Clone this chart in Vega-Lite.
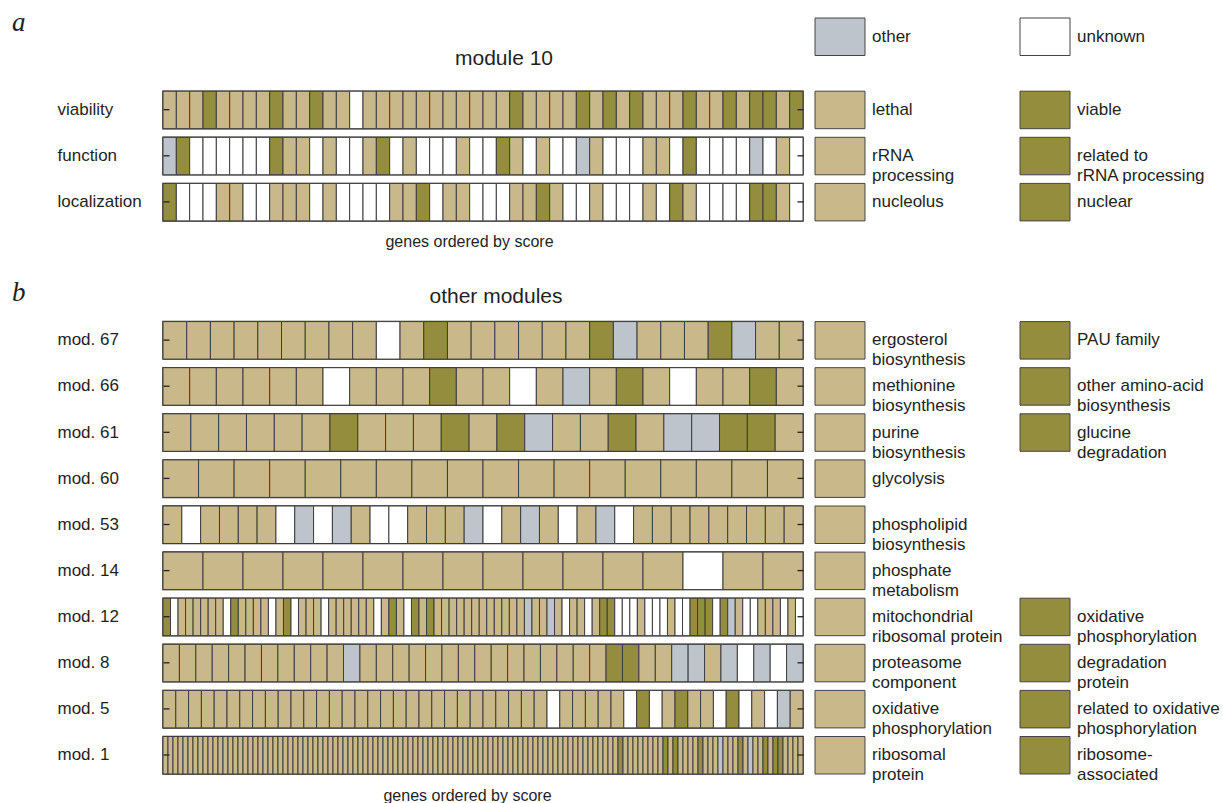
{
"$schema": "https://vega.github.io/schema/vega-lite/v6.json",
"padding": {"left": 12, "top": 9, "right": 0, "bottom": 0},
"autosize": {"type": "pad"},
"bounds": "flush",
"align": "each",
"columns": 2,
"spacing": {"row": 8.1, "column": 12},
"datasets": {
"cells": [
{"track":"viability","i":1,"cat":"main"},{"track":"viability","i":2,"cat":"main"},{"track":"viability","i":3,"cat":"main"},{"track":"viability","i":4,"cat":"alt"},{"track":"viability","i":5,"cat":"main"},{"track":"viability","i":6,"cat":"main"},{"track":"viability","i":7,"cat":"main"},{"track":"viability","i":8,"cat":"main"},{"track":"viability","i":9,"cat":"alt"},{"track":"viability","i":10,"cat":"main"},{"track":"viability","i":11,"cat":"main"},{"track":"viability","i":12,"cat":"alt"},{"track":"viability","i":13,"cat":"main"},{"track":"viability","i":14,"cat":"main"},{"track":"viability","i":15,"cat":"unknown"},{"track":"viability","i":16,"cat":"main"},{"track":"viability","i":17,"cat":"main"},{"track":"viability","i":18,"cat":"main"},{"track":"viability","i":19,"cat":"main"},{"track":"viability","i":20,"cat":"main"},{"track":"viability","i":21,"cat":"main"},{"track":"viability","i":22,"cat":"main"},{"track":"viability","i":23,"cat":"main"},{"track":"viability","i":24,"cat":"main"},{"track":"viability","i":25,"cat":"main"},{"track":"viability","i":26,"cat":"main"},{"track":"viability","i":27,"cat":"alt"},{"track":"viability","i":28,"cat":"main"},{"track":"viability","i":29,"cat":"main"},{"track":"viability","i":30,"cat":"main"},{"track":"viability","i":31,"cat":"main"},{"track":"viability","i":32,"cat":"alt"},{"track":"viability","i":33,"cat":"main"},{"track":"viability","i":34,"cat":"alt"},{"track":"viability","i":35,"cat":"main"},{"track":"viability","i":36,"cat":"alt"},{"track":"viability","i":37,"cat":"main"},{"track":"viability","i":38,"cat":"main"},{"track":"viability","i":39,"cat":"main"},{"track":"viability","i":40,"cat":"alt"},{"track":"viability","i":41,"cat":"main"},{"track":"viability","i":42,"cat":"main"},{"track":"viability","i":43,"cat":"alt"},{"track":"viability","i":44,"cat":"main"},{"track":"viability","i":45,"cat":"alt"},{"track":"viability","i":46,"cat":"alt"},{"track":"viability","i":47,"cat":"main"},{"track":"viability","i":48,"cat":"alt"},
{"track":"function","i":1,"cat":"other"},{"track":"function","i":2,"cat":"alt"},{"track":"function","i":3,"cat":"unknown"},{"track":"function","i":4,"cat":"unknown"},{"track":"function","i":5,"cat":"unknown"},{"track":"function","i":6,"cat":"unknown"},{"track":"function","i":7,"cat":"unknown"},{"track":"function","i":8,"cat":"unknown"},{"track":"function","i":9,"cat":"alt"},{"track":"function","i":10,"cat":"main"},{"track":"function","i":11,"cat":"main"},{"track":"function","i":12,"cat":"unknown"},{"track":"function","i":13,"cat":"main"},{"track":"function","i":14,"cat":"unknown"},{"track":"function","i":15,"cat":"unknown"},{"track":"function","i":16,"cat":"main"},{"track":"function","i":17,"cat":"alt"},{"track":"function","i":18,"cat":"unknown"},{"track":"function","i":19,"cat":"main"},{"track":"function","i":20,"cat":"unknown"},{"track":"function","i":21,"cat":"unknown"},{"track":"function","i":22,"cat":"unknown"},{"track":"function","i":23,"cat":"main"},{"track":"function","i":24,"cat":"unknown"},{"track":"function","i":25,"cat":"unknown"},{"track":"function","i":26,"cat":"alt"},{"track":"function","i":27,"cat":"main"},{"track":"function","i":28,"cat":"unknown"},{"track":"function","i":29,"cat":"main"},{"track":"function","i":30,"cat":"unknown"},{"track":"function","i":31,"cat":"unknown"},{"track":"function","i":32,"cat":"other"},{"track":"function","i":33,"cat":"main"},{"track":"function","i":34,"cat":"unknown"},{"track":"function","i":35,"cat":"unknown"},{"track":"function","i":36,"cat":"unknown"},{"track":"function","i":37,"cat":"main"},{"track":"function","i":38,"cat":"main"},{"track":"function","i":39,"cat":"unknown"},{"track":"function","i":40,"cat":"alt"},{"track":"function","i":41,"cat":"unknown"},{"track":"function","i":42,"cat":"unknown"},{"track":"function","i":43,"cat":"unknown"},{"track":"function","i":44,"cat":"unknown"},{"track":"function","i":45,"cat":"other"},{"track":"function","i":46,"cat":"unknown"},{"track":"function","i":47,"cat":"main"},{"track":"function","i":48,"cat":"unknown"},
{"track":"localization","i":1,"cat":"alt"},{"track":"localization","i":2,"cat":"unknown"},{"track":"localization","i":3,"cat":"unknown"},{"track":"localization","i":4,"cat":"unknown"},{"track":"localization","i":5,"cat":"main"},{"track":"localization","i":6,"cat":"main"},{"track":"localization","i":7,"cat":"unknown"},{"track":"localization","i":8,"cat":"unknown"},{"track":"localization","i":9,"cat":"main"},{"track":"localization","i":10,"cat":"main"},{"track":"localization","i":11,"cat":"main"},{"track":"localization","i":12,"cat":"unknown"},{"track":"localization","i":13,"cat":"main"},{"track":"localization","i":14,"cat":"unknown"},{"track":"localization","i":15,"cat":"unknown"},{"track":"localization","i":16,"cat":"unknown"},{"track":"localization","i":17,"cat":"unknown"},{"track":"localization","i":18,"cat":"main"},{"track":"localization","i":19,"cat":"main"},{"track":"localization","i":20,"cat":"alt"},{"track":"localization","i":21,"cat":"unknown"},{"track":"localization","i":22,"cat":"main"},{"track":"localization","i":23,"cat":"main"},{"track":"localization","i":24,"cat":"unknown"},{"track":"localization","i":25,"cat":"unknown"},{"track":"localization","i":26,"cat":"unknown"},{"track":"localization","i":27,"cat":"main"},{"track":"localization","i":28,"cat":"main"},{"track":"localization","i":29,"cat":"alt"},{"track":"localization","i":30,"cat":"main"},{"track":"localization","i":31,"cat":"unknown"},{"track":"localization","i":32,"cat":"unknown"},{"track":"localization","i":33,"cat":"main"},{"track":"localization","i":34,"cat":"unknown"},{"track":"localization","i":35,"cat":"unknown"},{"track":"localization","i":36,"cat":"unknown"},{"track":"localization","i":37,"cat":"main"},{"track":"localization","i":38,"cat":"unknown"},{"track":"localization","i":39,"cat":"alt"},{"track":"localization","i":40,"cat":"main"},{"track":"localization","i":41,"cat":"unknown"},{"track":"localization","i":42,"cat":"unknown"},{"track":"localization","i":43,"cat":"unknown"},{"track":"localization","i":44,"cat":"unknown"},{"track":"localization","i":45,"cat":"alt"},{"track":"localization","i":46,"cat":"alt"},{"track":"localization","i":47,"cat":"main"},{"track":"localization","i":48,"cat":"unknown"},
{"track":"mod. 67","i":1,"cat":"main"},{"track":"mod. 67","i":2,"cat":"main"},{"track":"mod. 67","i":3,"cat":"main"},{"track":"mod. 67","i":4,"cat":"main"},{"track":"mod. 67","i":5,"cat":"main"},{"track":"mod. 67","i":6,"cat":"main"},{"track":"mod. 67","i":7,"cat":"main"},{"track":"mod. 67","i":8,"cat":"main"},{"track":"mod. 67","i":9,"cat":"main"},{"track":"mod. 67","i":10,"cat":"unknown"},{"track":"mod. 67","i":11,"cat":"main"},{"track":"mod. 67","i":12,"cat":"alt"},{"track":"mod. 67","i":13,"cat":"main"},{"track":"mod. 67","i":14,"cat":"main"},{"track":"mod. 67","i":15,"cat":"main"},{"track":"mod. 67","i":16,"cat":"main"},{"track":"mod. 67","i":17,"cat":"main"},{"track":"mod. 67","i":18,"cat":"main"},{"track":"mod. 67","i":19,"cat":"alt"},{"track":"mod. 67","i":20,"cat":"other"},{"track":"mod. 67","i":21,"cat":"main"},{"track":"mod. 67","i":22,"cat":"main"},{"track":"mod. 67","i":23,"cat":"main"},{"track":"mod. 67","i":24,"cat":"alt"},{"track":"mod. 67","i":25,"cat":"other"},{"track":"mod. 67","i":26,"cat":"main"},{"track":"mod. 67","i":27,"cat":"main"},
{"track":"mod. 66","i":1,"cat":"main"},{"track":"mod. 66","i":2,"cat":"main"},{"track":"mod. 66","i":3,"cat":"main"},{"track":"mod. 66","i":4,"cat":"main"},{"track":"mod. 66","i":5,"cat":"main"},{"track":"mod. 66","i":6,"cat":"main"},{"track":"mod. 66","i":7,"cat":"unknown"},{"track":"mod. 66","i":8,"cat":"main"},{"track":"mod. 66","i":9,"cat":"main"},{"track":"mod. 66","i":10,"cat":"main"},{"track":"mod. 66","i":11,"cat":"alt"},{"track":"mod. 66","i":12,"cat":"main"},{"track":"mod. 66","i":13,"cat":"main"},{"track":"mod. 66","i":14,"cat":"unknown"},{"track":"mod. 66","i":15,"cat":"main"},{"track":"mod. 66","i":16,"cat":"other"},{"track":"mod. 66","i":17,"cat":"main"},{"track":"mod. 66","i":18,"cat":"alt"},{"track":"mod. 66","i":19,"cat":"main"},{"track":"mod. 66","i":20,"cat":"unknown"},{"track":"mod. 66","i":21,"cat":"main"},{"track":"mod. 66","i":22,"cat":"main"},{"track":"mod. 66","i":23,"cat":"alt"},{"track":"mod. 66","i":24,"cat":"main"},
{"track":"mod. 61","i":1,"cat":"main"},{"track":"mod. 61","i":2,"cat":"main"},{"track":"mod. 61","i":3,"cat":"main"},{"track":"mod. 61","i":4,"cat":"main"},{"track":"mod. 61","i":5,"cat":"main"},{"track":"mod. 61","i":6,"cat":"main"},{"track":"mod. 61","i":7,"cat":"alt"},{"track":"mod. 61","i":8,"cat":"main"},{"track":"mod. 61","i":9,"cat":"main"},{"track":"mod. 61","i":10,"cat":"main"},{"track":"mod. 61","i":11,"cat":"alt"},{"track":"mod. 61","i":12,"cat":"main"},{"track":"mod. 61","i":13,"cat":"alt"},{"track":"mod. 61","i":14,"cat":"other"},{"track":"mod. 61","i":15,"cat":"main"},{"track":"mod. 61","i":16,"cat":"main"},{"track":"mod. 61","i":17,"cat":"alt"},{"track":"mod. 61","i":18,"cat":"main"},{"track":"mod. 61","i":19,"cat":"other"},{"track":"mod. 61","i":20,"cat":"other"},{"track":"mod. 61","i":21,"cat":"alt"},{"track":"mod. 61","i":22,"cat":"alt"},{"track":"mod. 61","i":23,"cat":"main"},
{"track":"mod. 60","i":1,"cat":"main"},{"track":"mod. 60","i":2,"cat":"main"},{"track":"mod. 60","i":3,"cat":"main"},{"track":"mod. 60","i":4,"cat":"main"},{"track":"mod. 60","i":5,"cat":"main"},{"track":"mod. 60","i":6,"cat":"main"},{"track":"mod. 60","i":7,"cat":"main"},{"track":"mod. 60","i":8,"cat":"main"},{"track":"mod. 60","i":9,"cat":"main"},{"track":"mod. 60","i":10,"cat":"main"},{"track":"mod. 60","i":11,"cat":"main"},{"track":"mod. 60","i":12,"cat":"main"},{"track":"mod. 60","i":13,"cat":"main"},{"track":"mod. 60","i":14,"cat":"main"},{"track":"mod. 60","i":15,"cat":"main"},{"track":"mod. 60","i":16,"cat":"main"},{"track":"mod. 60","i":17,"cat":"main"},{"track":"mod. 60","i":18,"cat":"main"},
{"track":"mod. 53","i":1,"cat":"main"},{"track":"mod. 53","i":2,"cat":"unknown"},{"track":"mod. 53","i":3,"cat":"main"},{"track":"mod. 53","i":4,"cat":"main"},{"track":"mod. 53","i":5,"cat":"main"},{"track":"mod. 53","i":6,"cat":"main"},{"track":"mod. 53","i":7,"cat":"unknown"},{"track":"mod. 53","i":8,"cat":"other"},{"track":"mod. 53","i":9,"cat":"unknown"},{"track":"mod. 53","i":10,"cat":"other"},{"track":"mod. 53","i":11,"cat":"main"},{"track":"mod. 53","i":12,"cat":"unknown"},{"track":"mod. 53","i":13,"cat":"unknown"},{"track":"mod. 53","i":14,"cat":"main"},{"track":"mod. 53","i":15,"cat":"main"},{"track":"mod. 53","i":16,"cat":"main"},{"track":"mod. 53","i":17,"cat":"other"},{"track":"mod. 53","i":18,"cat":"unknown"},{"track":"mod. 53","i":19,"cat":"main"},{"track":"mod. 53","i":20,"cat":"other"},{"track":"mod. 53","i":21,"cat":"main"},{"track":"mod. 53","i":22,"cat":"unknown"},{"track":"mod. 53","i":23,"cat":"main"},{"track":"mod. 53","i":24,"cat":"other"},{"track":"mod. 53","i":25,"cat":"unknown"},{"track":"mod. 53","i":26,"cat":"main"},{"track":"mod. 53","i":27,"cat":"main"},{"track":"mod. 53","i":28,"cat":"main"},{"track":"mod. 53","i":29,"cat":"main"},{"track":"mod. 53","i":30,"cat":"main"},{"track":"mod. 53","i":31,"cat":"main"},{"track":"mod. 53","i":32,"cat":"main"},{"track":"mod. 53","i":33,"cat":"main"},{"track":"mod. 53","i":34,"cat":"main"},
{"track":"mod. 14","i":1,"cat":"main"},{"track":"mod. 14","i":2,"cat":"main"},{"track":"mod. 14","i":3,"cat":"main"},{"track":"mod. 14","i":4,"cat":"main"},{"track":"mod. 14","i":5,"cat":"main"},{"track":"mod. 14","i":6,"cat":"main"},{"track":"mod. 14","i":7,"cat":"main"},{"track":"mod. 14","i":8,"cat":"main"},{"track":"mod. 14","i":9,"cat":"main"},{"track":"mod. 14","i":10,"cat":"main"},{"track":"mod. 14","i":11,"cat":"main"},{"track":"mod. 14","i":12,"cat":"main"},{"track":"mod. 14","i":13,"cat":"main"},{"track":"mod. 14","i":14,"cat":"unknown"},{"track":"mod. 14","i":15,"cat":"main"},{"track":"mod. 14","i":16,"cat":"main"},
{"track":"mod. 12","i":1,"cat":"alt"},{"track":"mod. 12","i":2,"cat":"unknown"},{"track":"mod. 12","i":3,"cat":"main"},{"track":"mod. 12","i":4,"cat":"main"},{"track":"mod. 12","i":5,"cat":"main"},{"track":"mod. 12","i":6,"cat":"main"},{"track":"mod. 12","i":7,"cat":"main"},{"track":"mod. 12","i":8,"cat":"main"},{"track":"mod. 12","i":9,"cat":"unknown"},{"track":"mod. 12","i":10,"cat":"alt"},{"track":"mod. 12","i":11,"cat":"main"},{"track":"mod. 12","i":12,"cat":"main"},{"track":"mod. 12","i":13,"cat":"main"},{"track":"mod. 12","i":14,"cat":"main"},{"track":"mod. 12","i":15,"cat":"unknown"},{"track":"mod. 12","i":16,"cat":"main"},{"track":"mod. 12","i":17,"cat":"alt"},{"track":"mod. 12","i":18,"cat":"unknown"},{"track":"mod. 12","i":19,"cat":"main"},{"track":"mod. 12","i":20,"cat":"main"},{"track":"mod. 12","i":21,"cat":"main"},{"track":"mod. 12","i":22,"cat":"unknown"},{"track":"mod. 12","i":23,"cat":"main"},{"track":"mod. 12","i":24,"cat":"main"},{"track":"mod. 12","i":25,"cat":"main"},{"track":"mod. 12","i":26,"cat":"main"},{"track":"mod. 12","i":27,"cat":"main"},{"track":"mod. 12","i":28,"cat":"main"},{"track":"mod. 12","i":29,"cat":"unknown"},{"track":"mod. 12","i":30,"cat":"main"},{"track":"mod. 12","i":31,"cat":"alt"},{"track":"mod. 12","i":32,"cat":"main"},{"track":"mod. 12","i":33,"cat":"unknown"},{"track":"mod. 12","i":34,"cat":"alt"},{"track":"mod. 12","i":35,"cat":"main"},{"track":"mod. 12","i":36,"cat":"alt"},{"track":"mod. 12","i":37,"cat":"main"},{"track":"mod. 12","i":38,"cat":"main"},{"track":"mod. 12","i":39,"cat":"main"},{"track":"mod. 12","i":40,"cat":"main"},{"track":"mod. 12","i":41,"cat":"main"},{"track":"mod. 12","i":42,"cat":"main"},{"track":"mod. 12","i":43,"cat":"main"},{"track":"mod. 12","i":44,"cat":"main"},{"track":"mod. 12","i":45,"cat":"main"},{"track":"mod. 12","i":46,"cat":"main"},{"track":"mod. 12","i":47,"cat":"main"},{"track":"mod. 12","i":48,"cat":"main"},{"track":"mod. 12","i":49,"cat":"other"},{"track":"mod. 12","i":50,"cat":"main"},{"track":"mod. 12","i":51,"cat":"main"},{"track":"mod. 12","i":52,"cat":"other"},{"track":"mod. 12","i":53,"cat":"main"},{"track":"mod. 12","i":54,"cat":"unknown"},{"track":"mod. 12","i":55,"cat":"main"},{"track":"mod. 12","i":56,"cat":"main"},{"track":"mod. 12","i":57,"cat":"unknown"},{"track":"mod. 12","i":58,"cat":"main"},{"track":"mod. 12","i":59,"cat":"alt"},{"track":"mod. 12","i":60,"cat":"alt"},{"track":"mod. 12","i":61,"cat":"unknown"},{"track":"mod. 12","i":62,"cat":"unknown"},{"track":"mod. 12","i":63,"cat":"unknown"},{"track":"mod. 12","i":64,"cat":"main"},{"track":"mod. 12","i":65,"cat":"unknown"},{"track":"mod. 12","i":66,"cat":"unknown"},{"track":"mod. 12","i":67,"cat":"unknown"},{"track":"mod. 12","i":68,"cat":"main"},{"track":"mod. 12","i":69,"cat":"unknown"},{"track":"mod. 12","i":70,"cat":"unknown"},{"track":"mod. 12","i":71,"cat":"alt"},{"track":"mod. 12","i":72,"cat":"alt"},{"track":"mod. 12","i":73,"cat":"alt"},{"track":"mod. 12","i":74,"cat":"unknown"},{"track":"mod. 12","i":75,"cat":"alt"},{"track":"mod. 12","i":76,"cat":"other"},{"track":"mod. 12","i":77,"cat":"main"},{"track":"mod. 12","i":78,"cat":"unknown"},{"track":"mod. 12","i":79,"cat":"unknown"},{"track":"mod. 12","i":80,"cat":"main"},{"track":"mod. 12","i":81,"cat":"main"},{"track":"mod. 12","i":82,"cat":"main"},{"track":"mod. 12","i":83,"cat":"unknown"},{"track":"mod. 12","i":84,"cat":"main"},{"track":"mod. 12","i":85,"cat":"unknown"},
{"track":"mod. 8","i":1,"cat":"main"},{"track":"mod. 8","i":2,"cat":"main"},{"track":"mod. 8","i":3,"cat":"main"},{"track":"mod. 8","i":4,"cat":"main"},{"track":"mod. 8","i":5,"cat":"main"},{"track":"mod. 8","i":6,"cat":"main"},{"track":"mod. 8","i":7,"cat":"main"},{"track":"mod. 8","i":8,"cat":"main"},{"track":"mod. 8","i":9,"cat":"main"},{"track":"mod. 8","i":10,"cat":"main"},{"track":"mod. 8","i":11,"cat":"main"},{"track":"mod. 8","i":12,"cat":"other"},{"track":"mod. 8","i":13,"cat":"main"},{"track":"mod. 8","i":14,"cat":"main"},{"track":"mod. 8","i":15,"cat":"main"},{"track":"mod. 8","i":16,"cat":"main"},{"track":"mod. 8","i":17,"cat":"main"},{"track":"mod. 8","i":18,"cat":"main"},{"track":"mod. 8","i":19,"cat":"main"},{"track":"mod. 8","i":20,"cat":"main"},{"track":"mod. 8","i":21,"cat":"main"},{"track":"mod. 8","i":22,"cat":"main"},{"track":"mod. 8","i":23,"cat":"main"},{"track":"mod. 8","i":24,"cat":"main"},{"track":"mod. 8","i":25,"cat":"main"},{"track":"mod. 8","i":26,"cat":"main"},{"track":"mod. 8","i":27,"cat":"main"},{"track":"mod. 8","i":28,"cat":"alt"},{"track":"mod. 8","i":29,"cat":"alt"},{"track":"mod. 8","i":30,"cat":"main"},{"track":"mod. 8","i":31,"cat":"main"},{"track":"mod. 8","i":32,"cat":"other"},{"track":"mod. 8","i":33,"cat":"other"},{"track":"mod. 8","i":34,"cat":"main"},{"track":"mod. 8","i":35,"cat":"other"},{"track":"mod. 8","i":36,"cat":"unknown"},{"track":"mod. 8","i":37,"cat":"other"},{"track":"mod. 8","i":38,"cat":"unknown"},{"track":"mod. 8","i":39,"cat":"other"},
{"track":"mod. 5","i":1,"cat":"main"},{"track":"mod. 5","i":2,"cat":"main"},{"track":"mod. 5","i":3,"cat":"main"},{"track":"mod. 5","i":4,"cat":"main"},{"track":"mod. 5","i":5,"cat":"main"},{"track":"mod. 5","i":6,"cat":"main"},{"track":"mod. 5","i":7,"cat":"main"},{"track":"mod. 5","i":8,"cat":"main"},{"track":"mod. 5","i":9,"cat":"main"},{"track":"mod. 5","i":10,"cat":"main"},{"track":"mod. 5","i":11,"cat":"main"},{"track":"mod. 5","i":12,"cat":"main"},{"track":"mod. 5","i":13,"cat":"main"},{"track":"mod. 5","i":14,"cat":"main"},{"track":"mod. 5","i":15,"cat":"main"},{"track":"mod. 5","i":16,"cat":"main"},{"track":"mod. 5","i":17,"cat":"main"},{"track":"mod. 5","i":18,"cat":"main"},{"track":"mod. 5","i":19,"cat":"main"},{"track":"mod. 5","i":20,"cat":"main"},{"track":"mod. 5","i":21,"cat":"main"},{"track":"mod. 5","i":22,"cat":"main"},{"track":"mod. 5","i":23,"cat":"main"},{"track":"mod. 5","i":24,"cat":"main"},{"track":"mod. 5","i":25,"cat":"main"},{"track":"mod. 5","i":26,"cat":"main"},{"track":"mod. 5","i":27,"cat":"main"},{"track":"mod. 5","i":28,"cat":"main"},{"track":"mod. 5","i":29,"cat":"main"},{"track":"mod. 5","i":30,"cat":"main"},{"track":"mod. 5","i":31,"cat":"unknown"},{"track":"mod. 5","i":32,"cat":"main"},{"track":"mod. 5","i":33,"cat":"main"},{"track":"mod. 5","i":34,"cat":"main"},{"track":"mod. 5","i":35,"cat":"main"},{"track":"mod. 5","i":36,"cat":"main"},{"track":"mod. 5","i":37,"cat":"unknown"},{"track":"mod. 5","i":38,"cat":"alt"},{"track":"mod. 5","i":39,"cat":"unknown"},{"track":"mod. 5","i":40,"cat":"main"},{"track":"mod. 5","i":41,"cat":"alt"},{"track":"mod. 5","i":42,"cat":"main"},{"track":"mod. 5","i":43,"cat":"main"},{"track":"mod. 5","i":44,"cat":"unknown"},{"track":"mod. 5","i":45,"cat":"alt"},{"track":"mod. 5","i":46,"cat":"unknown"},{"track":"mod. 5","i":47,"cat":"main"},{"track":"mod. 5","i":48,"cat":"unknown"},{"track":"mod. 5","i":49,"cat":"other"},{"track":"mod. 5","i":50,"cat":"main"},
{"track":"mod. 1","i":1,"cat":"main"},{"track":"mod. 1","i":2,"cat":"main"},{"track":"mod. 1","i":3,"cat":"main"},{"track":"mod. 1","i":4,"cat":"main"},{"track":"mod. 1","i":5,"cat":"main"},{"track":"mod. 1","i":6,"cat":"main"},{"track":"mod. 1","i":7,"cat":"main"},{"track":"mod. 1","i":8,"cat":"main"},{"track":"mod. 1","i":9,"cat":"main"},{"track":"mod. 1","i":10,"cat":"main"},{"track":"mod. 1","i":11,"cat":"main"},{"track":"mod. 1","i":12,"cat":"main"},{"track":"mod. 1","i":13,"cat":"main"},{"track":"mod. 1","i":14,"cat":"main"},{"track":"mod. 1","i":15,"cat":"main"},{"track":"mod. 1","i":16,"cat":"main"},{"track":"mod. 1","i":17,"cat":"main"},{"track":"mod. 1","i":18,"cat":"main"},{"track":"mod. 1","i":19,"cat":"main"},{"track":"mod. 1","i":20,"cat":"main"},{"track":"mod. 1","i":21,"cat":"main"},{"track":"mod. 1","i":22,"cat":"main"},{"track":"mod. 1","i":23,"cat":"main"},{"track":"mod. 1","i":24,"cat":"main"},{"track":"mod. 1","i":25,"cat":"main"},{"track":"mod. 1","i":26,"cat":"main"},{"track":"mod. 1","i":27,"cat":"main"},{"track":"mod. 1","i":28,"cat":"main"},{"track":"mod. 1","i":29,"cat":"main"},{"track":"mod. 1","i":30,"cat":"main"},{"track":"mod. 1","i":31,"cat":"main"},{"track":"mod. 1","i":32,"cat":"main"},{"track":"mod. 1","i":33,"cat":"main"},{"track":"mod. 1","i":34,"cat":"main"},{"track":"mod. 1","i":35,"cat":"main"},{"track":"mod. 1","i":36,"cat":"main"},{"track":"mod. 1","i":37,"cat":"main"},{"track":"mod. 1","i":38,"cat":"main"},{"track":"mod. 1","i":39,"cat":"main"},{"track":"mod. 1","i":40,"cat":"main"},{"track":"mod. 1","i":41,"cat":"main"},{"track":"mod. 1","i":42,"cat":"main"},{"track":"mod. 1","i":43,"cat":"main"},{"track":"mod. 1","i":44,"cat":"main"},{"track":"mod. 1","i":45,"cat":"main"},{"track":"mod. 1","i":46,"cat":"main"},{"track":"mod. 1","i":47,"cat":"main"},{"track":"mod. 1","i":48,"cat":"main"},{"track":"mod. 1","i":49,"cat":"main"},{"track":"mod. 1","i":50,"cat":"main"},{"track":"mod. 1","i":51,"cat":"main"},{"track":"mod. 1","i":52,"cat":"main"},{"track":"mod. 1","i":53,"cat":"main"},{"track":"mod. 1","i":54,"cat":"main"},{"track":"mod. 1","i":55,"cat":"main"},{"track":"mod. 1","i":56,"cat":"main"},{"track":"mod. 1","i":57,"cat":"main"},{"track":"mod. 1","i":58,"cat":"main"},{"track":"mod. 1","i":59,"cat":"main"},{"track":"mod. 1","i":60,"cat":"main"},{"track":"mod. 1","i":61,"cat":"main"},{"track":"mod. 1","i":62,"cat":"main"},{"track":"mod. 1","i":63,"cat":"main"},{"track":"mod. 1","i":64,"cat":"main"},{"track":"mod. 1","i":65,"cat":"main"},{"track":"mod. 1","i":66,"cat":"main"},{"track":"mod. 1","i":67,"cat":"main"},{"track":"mod. 1","i":68,"cat":"main"},{"track":"mod. 1","i":69,"cat":"main"},{"track":"mod. 1","i":70,"cat":"main"},{"track":"mod. 1","i":71,"cat":"main"},{"track":"mod. 1","i":72,"cat":"main"},{"track":"mod. 1","i":73,"cat":"main"},{"track":"mod. 1","i":74,"cat":"main"},{"track":"mod. 1","i":75,"cat":"main"},{"track":"mod. 1","i":76,"cat":"main"},{"track":"mod. 1","i":77,"cat":"main"},{"track":"mod. 1","i":78,"cat":"main"},{"track":"mod. 1","i":79,"cat":"main"},{"track":"mod. 1","i":80,"cat":"main"},{"track":"mod. 1","i":81,"cat":"main"},{"track":"mod. 1","i":82,"cat":"main"},{"track":"mod. 1","i":83,"cat":"main"},{"track":"mod. 1","i":84,"cat":"main"},{"track":"mod. 1","i":85,"cat":"main"},{"track":"mod. 1","i":86,"cat":"main"},{"track":"mod. 1","i":87,"cat":"main"},{"track":"mod. 1","i":88,"cat":"main"},{"track":"mod. 1","i":89,"cat":"main"},{"track":"mod. 1","i":90,"cat":"main"},{"track":"mod. 1","i":91,"cat":"main"},{"track":"mod. 1","i":92,"cat":"alt"},{"track":"mod. 1","i":93,"cat":"main"},{"track":"mod. 1","i":94,"cat":"main"},{"track":"mod. 1","i":95,"cat":"main"},{"track":"mod. 1","i":96,"cat":"main"},{"track":"mod. 1","i":97,"cat":"main"},{"track":"mod. 1","i":98,"cat":"main"},{"track":"mod. 1","i":99,"cat":"main"},{"track":"mod. 1","i":100,"cat":"main"},{"track":"mod. 1","i":101,"cat":"alt"},{"track":"mod. 1","i":102,"cat":"main"},{"track":"mod. 1","i":103,"cat":"alt"},{"track":"mod. 1","i":104,"cat":"main"},{"track":"mod. 1","i":105,"cat":"main"},{"track":"mod. 1","i":106,"cat":"main"},{"track":"mod. 1","i":107,"cat":"main"},{"track":"mod. 1","i":108,"cat":"alt"},{"track":"mod. 1","i":109,"cat":"main"},{"track":"mod. 1","i":110,"cat":"main"},{"track":"mod. 1","i":111,"cat":"main"},{"track":"mod. 1","i":112,"cat":"other"},{"track":"mod. 1","i":113,"cat":"main"},{"track":"mod. 1","i":114,"cat":"main"},{"track":"mod. 1","i":115,"cat":"main"},{"track":"mod. 1","i":116,"cat":"alt"},{"track":"mod. 1","i":117,"cat":"main"},{"track":"mod. 1","i":118,"cat":"other"},{"track":"mod. 1","i":119,"cat":"main"},{"track":"mod. 1","i":120,"cat":"main"},{"track":"mod. 1","i":121,"cat":"alt"},{"track":"mod. 1","i":122,"cat":"main"},{"track":"mod. 1","i":123,"cat":"alt"},{"track":"mod. 1","i":124,"cat":"alt"},{"track":"mod. 1","i":125,"cat":"main"},{"track":"mod. 1","i":126,"cat":"main"},{"track":"mod. 1","i":127,"cat":"main"},{"track":"mod. 1","i":128,"cat":"main"}
],
"legend": [
{"track":"hdr","col":"main","cat":"other","label":"other"},
{"track":"hdr","col":"alt","cat":"unknown","label":"unknown"},
{"track":"viability","col":"main","cat":"main","label":"lethal"},
{"track":"viability","col":"alt","cat":"alt","label":"viable"},
{"track":"function","col":"main","cat":"main","label":"rRNA\nprocessing"},
{"track":"function","col":"alt","cat":"alt","label":"related to\nrRNA processing"},
{"track":"localization","col":"main","cat":"main","label":"nucleolus"},
{"track":"localization","col":"alt","cat":"alt","label":"nuclear"},
{"track":"mod. 67","col":"main","cat":"main","label":"ergosterol\nbiosynthesis"},
{"track":"mod. 67","col":"alt","cat":"alt","label":"PAU family"},
{"track":"mod. 66","col":"main","cat":"main","label":"methionine\nbiosynthesis"},
{"track":"mod. 66","col":"alt","cat":"alt","label":"other amino-acid\nbiosynthesis"},
{"track":"mod. 61","col":"main","cat":"main","label":"purine\nbiosynthesis"},
{"track":"mod. 61","col":"alt","cat":"alt","label":"glucine\ndegradation"},
{"track":"mod. 60","col":"main","cat":"main","label":"glycolysis"},
{"track":"mod. 53","col":"main","cat":"main","label":"phospholipid\nbiosynthesis"},
{"track":"mod. 14","col":"main","cat":"main","label":"phosphate\nmetabolism"},
{"track":"mod. 12","col":"main","cat":"main","label":"mitochondrial\nribosomal protein"},
{"track":"mod. 12","col":"alt","cat":"alt","label":"oxidative\nphosphorylation"},
{"track":"mod. 8","col":"main","cat":"main","label":"proteasome\ncomponent"},
{"track":"mod. 8","col":"alt","cat":"alt","label":"degradation\nprotein"},
{"track":"mod. 5","col":"main","cat":"main","label":"oxidative\nphosphorylation"},
{"track":"mod. 5","col":"alt","cat":"alt","label":"related to oxidative\nphosphorylation"},
{"track":"mod. 1","col":"main","cat":"main","label":"ribosomal\nprotein"},
{"track":"mod. 1","col":"alt","cat":"alt","label":"ribosome-\nassociated"}
]
},
"concat": [
{"width": 640, "height": 37.5, "data": {"values": []}, "mark": "point",
 "title": {"text": "a", "anchor": "start", "frame": "group", "orient": "top", "offset": 0, "dx": -151, "dy": 40, "baseline": "alphabetic", "font": "Liberation Serif", "fontStyle": "italic", "fontSize": 27, "fontWeight": "normal", "color": "#231f20"}},
{"width": 255, "height": 37.5, "data": {"name": "legend"}, "transform": [{"filter": {"field": "track", "equal": "hdr"}}],
 "encoding": {"x": {"field": "col", "type": "nominal", "scale": {"domain": ["main","alt"], "paddingInner": 0.7561, "paddingOuter": 0}, "axis": null}, "y": {"field": "track", "type": "nominal", "scale": {"paddingInner": 0, "paddingOuter": 0}, "axis": null}},
 "layer": [{"mark": {"type": "rect", "stroke": "#444", "strokeWidth": 1}, "encoding": {"color": {"field": "cat", "type": "nominal", "scale": {"domain": ["main","alt","other","unknown"], "range": ["#C9B98A","#948D3E","#BDC4CB","#FFFFFF"]}, "legend": null}}},
  {"mark": {"type": "text", "align": "left", "baseline": "middle", "dx": 32, "fontSize": 17, "lineHeight": 20, "lineBreak": "\n", "color": "#231f20"}, "encoding": {"text": {"field": "label"}}}]},
{"width": 640, "height": 18.4, "data": {"values": []}, "mark": "point"},
{"width": 255, "height": 18.4, "data": {"values": []}, "mark": "point"},
{"width": 640, "height": 37.5, "view": {"stroke": "#333", "strokeWidth": 1.5},
 "title": {"text": "module 10", "offset": 24, "dx": 21, "dy": 19, "baseline": "alphabetic"},
 "data": {"name": "cells"}, "transform": [{"filter": {"field": "track", "equal": "viability"}}],
 "layer": [{"mark": {"type": "rect", "stroke": "#3d3d3d", "strokeWidth": 1}, "encoding": {"x": {"field": "i", "type": "ordinal", "scale": {"paddingInner": 0, "paddingOuter": 0}, "axis": null}, "y": {"field": "track", "type": "nominal", "scale": {"paddingInner": 0, "paddingOuter": 0}, "axis": {"orient": "left", "title": null}}, "color": {"field": "cat", "type": "nominal", "scale": {"domain": ["main","alt","other","unknown"], "range": ["#C9B98A","#948D3E","#BDC4CB","#FFFFFF"]}, "legend": null}}},
  {"mark": {"type": "rect", "opacity": 0}, "encoding": {"y": {"field": "track", "type": "nominal", "axis": {"orient": "right", "title": null}}}}],
 "resolve": {"axis": {"y": "independent"}}},
{"width": 255, "height": 37.5, "data": {"name": "legend"}, "transform": [{"filter": {"field": "track", "equal": "viability"}}],
 "encoding": {"x": {"field": "col", "type": "nominal", "scale": {"domain": ["main","alt"], "paddingInner": 0.7561, "paddingOuter": 0}, "axis": null}, "y": {"field": "track", "type": "nominal", "scale": {"paddingInner": 0, "paddingOuter": 0}, "axis": null}},
 "layer": [{"mark": {"type": "rect", "stroke": "#444", "strokeWidth": 1}, "encoding": {"color": {"field": "cat", "type": "nominal", "scale": {"domain": ["main","alt","other","unknown"], "range": ["#C9B98A","#948D3E","#BDC4CB","#FFFFFF"]}, "legend": null}}},
  {"mark": {"type": "text", "align": "left", "baseline": "middle", "dx": 32, "fontSize": 17, "lineHeight": 20, "lineBreak": "\n", "color": "#231f20"}, "encoding": {"text": {"field": "label"}}}]},
{"width": 640, "height": 37.5, "view": {"stroke": "#333", "strokeWidth": 1.5},
 "data": {"name": "cells"}, "transform": [{"filter": {"field": "track", "equal": "function"}}],
 "layer": [{"mark": {"type": "rect", "stroke": "#3d3d3d", "strokeWidth": 1}, "encoding": {"x": {"field": "i", "type": "ordinal", "scale": {"paddingInner": 0, "paddingOuter": 0}, "axis": null}, "y": {"field": "track", "type": "nominal", "scale": {"paddingInner": 0, "paddingOuter": 0}, "axis": {"orient": "left", "title": null}}, "color": {"field": "cat", "type": "nominal", "scale": {"domain": ["main","alt","other","unknown"], "range": ["#C9B98A","#948D3E","#BDC4CB","#FFFFFF"]}, "legend": null}}},
  {"mark": {"type": "rect", "opacity": 0}, "encoding": {"y": {"field": "track", "type": "nominal", "axis": {"orient": "right", "title": null}}}}],
 "resolve": {"axis": {"y": "independent"}}},
{"width": 255, "height": 37.5, "data": {"name": "legend"}, "transform": [{"filter": {"field": "track", "equal": "function"}}],
 "encoding": {"x": {"field": "col", "type": "nominal", "scale": {"domain": ["main","alt"], "paddingInner": 0.7561, "paddingOuter": 0}, "axis": null}, "y": {"field": "track", "type": "nominal", "scale": {"paddingInner": 0, "paddingOuter": 0}, "axis": null}},
 "layer": [{"mark": {"type": "rect", "stroke": "#444", "strokeWidth": 1}, "encoding": {"color": {"field": "cat", "type": "nominal", "scale": {"domain": ["main","alt","other","unknown"], "range": ["#C9B98A","#948D3E","#BDC4CB","#FFFFFF"]}, "legend": null}}},
  {"mark": {"type": "text", "align": "left", "baseline": "middle", "dx": 32, "fontSize": 17, "lineHeight": 20, "lineBreak": "\n", "color": "#231f20"}, "encoding": {"text": {"field": "label"}}}]},
{"width": 640, "height": 37.5, "view": {"stroke": "#333", "strokeWidth": 1.5},
 "data": {"name": "cells"}, "transform": [{"filter": {"field": "track", "equal": "localization"}}],
 "layer": [{"mark": {"type": "rect", "stroke": "#3d3d3d", "strokeWidth": 1}, "encoding": {"x": {"field": "i", "type": "ordinal", "scale": {"paddingInner": 0, "paddingOuter": 0}, "axis": {"title": "genes ordered by score", "labels": false, "ticks": false, "domain": false, "titlePadding": 13, "titleX": 306, "titleFontSize": 16, "titleFontWeight": "normal", "titleColor": "#231f20"}}, "y": {"field": "track", "type": "nominal", "scale": {"paddingInner": 0, "paddingOuter": 0}, "axis": {"orient": "left", "title": null}}, "color": {"field": "cat", "type": "nominal", "scale": {"domain": ["main","alt","other","unknown"], "range": ["#C9B98A","#948D3E","#BDC4CB","#FFFFFF"]}, "legend": null}}},
  {"mark": {"type": "rect", "opacity": 0}, "encoding": {"y": {"field": "track", "type": "nominal", "axis": {"orient": "right", "title": null}}}}],
 "resolve": {"axis": {"y": "independent"}}},
{"width": 255, "height": 37.5, "data": {"name": "legend"}, "transform": [{"filter": {"field": "track", "equal": "localization"}}],
 "encoding": {"x": {"field": "col", "type": "nominal", "scale": {"domain": ["main","alt"], "paddingInner": 0.7561, "paddingOuter": 0}, "axis": null}, "y": {"field": "track", "type": "nominal", "scale": {"paddingInner": 0, "paddingOuter": 0}, "axis": null}},
 "layer": [{"mark": {"type": "rect", "stroke": "#444", "strokeWidth": 1}, "encoding": {"color": {"field": "cat", "type": "nominal", "scale": {"domain": ["main","alt","other","unknown"], "range": ["#C9B98A","#948D3E","#BDC4CB","#FFFFFF"]}, "legend": null}}},
  {"mark": {"type": "text", "align": "left", "baseline": "middle", "dx": 32, "fontSize": 17, "lineHeight": 20, "lineBreak": "\n", "color": "#231f20"}, "encoding": {"text": {"field": "label"}}}]},
{"width": 640, "height": 83.9, "data": {"values": []}, "mark": "point",
 "title": {"text": "b", "anchor": "start", "frame": "group", "orient": "top", "offset": 0, "dx": -151, "dy": 98.6, "baseline": "alphabetic", "font": "Liberation Serif", "fontStyle": "italic", "fontSize": 27, "fontWeight": "normal", "color": "#231f20"}},
{"width": 255, "height": 83.9, "data": {"values": []}, "mark": "point"},
{"width": 640, "height": 37.5, "view": {"stroke": "#333", "strokeWidth": 1.5},
 "title": {"text": "other modules", "offset": 16.5, "dx": 13, "dy": 19.7, "baseline": "alphabetic"},
 "data": {"name": "cells"}, "transform": [{"filter": {"field": "track", "equal": "mod. 67"}}],
 "layer": [{"mark": {"type": "rect", "stroke": "#3d3d3d", "strokeWidth": 1}, "encoding": {"x": {"field": "i", "type": "ordinal", "scale": {"paddingInner": 0, "paddingOuter": 0}, "axis": null}, "y": {"field": "track", "type": "nominal", "scale": {"paddingInner": 0, "paddingOuter": 0}, "axis": {"orient": "left", "title": null}}, "color": {"field": "cat", "type": "nominal", "scale": {"domain": ["main","alt","other","unknown"], "range": ["#C9B98A","#948D3E","#BDC4CB","#FFFFFF"]}, "legend": null}}},
  {"mark": {"type": "rect", "opacity": 0}, "encoding": {"y": {"field": "track", "type": "nominal", "axis": {"orient": "right", "title": null}}}}],
 "resolve": {"axis": {"y": "independent"}}},
{"width": 255, "height": 37.5, "data": {"name": "legend"}, "transform": [{"filter": {"field": "track", "equal": "mod. 67"}}],
 "encoding": {"x": {"field": "col", "type": "nominal", "scale": {"domain": ["main","alt"], "paddingInner": 0.7561, "paddingOuter": 0}, "axis": null}, "y": {"field": "track", "type": "nominal", "scale": {"paddingInner": 0, "paddingOuter": 0}, "axis": null}},
 "layer": [{"mark": {"type": "rect", "stroke": "#444", "strokeWidth": 1}, "encoding": {"color": {"field": "cat", "type": "nominal", "scale": {"domain": ["main","alt","other","unknown"], "range": ["#C9B98A","#948D3E","#BDC4CB","#FFFFFF"]}, "legend": null}}},
  {"mark": {"type": "text", "align": "left", "baseline": "middle", "dx": 32, "fontSize": 17, "lineHeight": 20, "lineBreak": "\n", "color": "#231f20"}, "encoding": {"text": {"field": "label"}}}]},
{"width": 640, "height": 37.5, "view": {"stroke": "#333", "strokeWidth": 1.5},
 "data": {"name": "cells"}, "transform": [{"filter": {"field": "track", "equal": "mod. 66"}}],
 "layer": [{"mark": {"type": "rect", "stroke": "#3d3d3d", "strokeWidth": 1}, "encoding": {"x": {"field": "i", "type": "ordinal", "scale": {"paddingInner": 0, "paddingOuter": 0}, "axis": null}, "y": {"field": "track", "type": "nominal", "scale": {"paddingInner": 0, "paddingOuter": 0}, "axis": {"orient": "left", "title": null}}, "color": {"field": "cat", "type": "nominal", "scale": {"domain": ["main","alt","other","unknown"], "range": ["#C9B98A","#948D3E","#BDC4CB","#FFFFFF"]}, "legend": null}}},
  {"mark": {"type": "rect", "opacity": 0}, "encoding": {"y": {"field": "track", "type": "nominal", "axis": {"orient": "right", "title": null}}}}],
 "resolve": {"axis": {"y": "independent"}}},
{"width": 255, "height": 37.5, "data": {"name": "legend"}, "transform": [{"filter": {"field": "track", "equal": "mod. 66"}}],
 "encoding": {"x": {"field": "col", "type": "nominal", "scale": {"domain": ["main","alt"], "paddingInner": 0.7561, "paddingOuter": 0}, "axis": null}, "y": {"field": "track", "type": "nominal", "scale": {"paddingInner": 0, "paddingOuter": 0}, "axis": null}},
 "layer": [{"mark": {"type": "rect", "stroke": "#444", "strokeWidth": 1}, "encoding": {"color": {"field": "cat", "type": "nominal", "scale": {"domain": ["main","alt","other","unknown"], "range": ["#C9B98A","#948D3E","#BDC4CB","#FFFFFF"]}, "legend": null}}},
  {"mark": {"type": "text", "align": "left", "baseline": "middle", "dx": 32, "fontSize": 17, "lineHeight": 20, "lineBreak": "\n", "color": "#231f20"}, "encoding": {"text": {"field": "label"}}}]},
{"width": 640, "height": 37.5, "view": {"stroke": "#333", "strokeWidth": 1.5},
 "data": {"name": "cells"}, "transform": [{"filter": {"field": "track", "equal": "mod. 61"}}],
 "layer": [{"mark": {"type": "rect", "stroke": "#3d3d3d", "strokeWidth": 1}, "encoding": {"x": {"field": "i", "type": "ordinal", "scale": {"paddingInner": 0, "paddingOuter": 0}, "axis": null}, "y": {"field": "track", "type": "nominal", "scale": {"paddingInner": 0, "paddingOuter": 0}, "axis": {"orient": "left", "title": null}}, "color": {"field": "cat", "type": "nominal", "scale": {"domain": ["main","alt","other","unknown"], "range": ["#C9B98A","#948D3E","#BDC4CB","#FFFFFF"]}, "legend": null}}},
  {"mark": {"type": "rect", "opacity": 0}, "encoding": {"y": {"field": "track", "type": "nominal", "axis": {"orient": "right", "title": null}}}}],
 "resolve": {"axis": {"y": "independent"}}},
{"width": 255, "height": 37.5, "data": {"name": "legend"}, "transform": [{"filter": {"field": "track", "equal": "mod. 61"}}],
 "encoding": {"x": {"field": "col", "type": "nominal", "scale": {"domain": ["main","alt"], "paddingInner": 0.7561, "paddingOuter": 0}, "axis": null}, "y": {"field": "track", "type": "nominal", "scale": {"paddingInner": 0, "paddingOuter": 0}, "axis": null}},
 "layer": [{"mark": {"type": "rect", "stroke": "#444", "strokeWidth": 1}, "encoding": {"color": {"field": "cat", "type": "nominal", "scale": {"domain": ["main","alt","other","unknown"], "range": ["#C9B98A","#948D3E","#BDC4CB","#FFFFFF"]}, "legend": null}}},
  {"mark": {"type": "text", "align": "left", "baseline": "middle", "dx": 32, "fontSize": 17, "lineHeight": 20, "lineBreak": "\n", "color": "#231f20"}, "encoding": {"text": {"field": "label"}}}]},
{"width": 640, "height": 37.5, "view": {"stroke": "#333", "strokeWidth": 1.5},
 "data": {"name": "cells"}, "transform": [{"filter": {"field": "track", "equal": "mod. 60"}}],
 "layer": [{"mark": {"type": "rect", "stroke": "#3d3d3d", "strokeWidth": 1}, "encoding": {"x": {"field": "i", "type": "ordinal", "scale": {"paddingInner": 0, "paddingOuter": 0}, "axis": null}, "y": {"field": "track", "type": "nominal", "scale": {"paddingInner": 0, "paddingOuter": 0}, "axis": {"orient": "left", "title": null}}, "color": {"field": "cat", "type": "nominal", "scale": {"domain": ["main","alt","other","unknown"], "range": ["#C9B98A","#948D3E","#BDC4CB","#FFFFFF"]}, "legend": null}}},
  {"mark": {"type": "rect", "opacity": 0}, "encoding": {"y": {"field": "track", "type": "nominal", "axis": {"orient": "right", "title": null}}}}],
 "resolve": {"axis": {"y": "independent"}}},
{"width": 255, "height": 37.5, "data": {"name": "legend"}, "transform": [{"filter": {"field": "track", "equal": "mod. 60"}}],
 "encoding": {"x": {"field": "col", "type": "nominal", "scale": {"domain": ["main","alt"], "paddingInner": 0.7561, "paddingOuter": 0}, "axis": null}, "y": {"field": "track", "type": "nominal", "scale": {"paddingInner": 0, "paddingOuter": 0}, "axis": null}},
 "layer": [{"mark": {"type": "rect", "stroke": "#444", "strokeWidth": 1}, "encoding": {"color": {"field": "cat", "type": "nominal", "scale": {"domain": ["main","alt","other","unknown"], "range": ["#C9B98A","#948D3E","#BDC4CB","#FFFFFF"]}, "legend": null}}},
  {"mark": {"type": "text", "align": "left", "baseline": "middle", "dx": 32, "fontSize": 17, "lineHeight": 20, "lineBreak": "\n", "color": "#231f20"}, "encoding": {"text": {"field": "label"}}}]},
{"width": 640, "height": 37.5, "view": {"stroke": "#333", "strokeWidth": 1.5},
 "data": {"name": "cells"}, "transform": [{"filter": {"field": "track", "equal": "mod. 53"}}],
 "layer": [{"mark": {"type": "rect", "stroke": "#3d3d3d", "strokeWidth": 1}, "encoding": {"x": {"field": "i", "type": "ordinal", "scale": {"paddingInner": 0, "paddingOuter": 0}, "axis": null}, "y": {"field": "track", "type": "nominal", "scale": {"paddingInner": 0, "paddingOuter": 0}, "axis": {"orient": "left", "title": null}}, "color": {"field": "cat", "type": "nominal", "scale": {"domain": ["main","alt","other","unknown"], "range": ["#C9B98A","#948D3E","#BDC4CB","#FFFFFF"]}, "legend": null}}},
  {"mark": {"type": "rect", "opacity": 0}, "encoding": {"y": {"field": "track", "type": "nominal", "axis": {"orient": "right", "title": null}}}}],
 "resolve": {"axis": {"y": "independent"}}},
{"width": 255, "height": 37.5, "data": {"name": "legend"}, "transform": [{"filter": {"field": "track", "equal": "mod. 53"}}],
 "encoding": {"x": {"field": "col", "type": "nominal", "scale": {"domain": ["main","alt"], "paddingInner": 0.7561, "paddingOuter": 0}, "axis": null}, "y": {"field": "track", "type": "nominal", "scale": {"paddingInner": 0, "paddingOuter": 0}, "axis": null}},
 "layer": [{"mark": {"type": "rect", "stroke": "#444", "strokeWidth": 1}, "encoding": {"color": {"field": "cat", "type": "nominal", "scale": {"domain": ["main","alt","other","unknown"], "range": ["#C9B98A","#948D3E","#BDC4CB","#FFFFFF"]}, "legend": null}}},
  {"mark": {"type": "text", "align": "left", "baseline": "middle", "dx": 32, "fontSize": 17, "lineHeight": 20, "lineBreak": "\n", "color": "#231f20"}, "encoding": {"text": {"field": "label"}}}]},
{"width": 640, "height": 37.5, "view": {"stroke": "#333", "strokeWidth": 1.5},
 "data": {"name": "cells"}, "transform": [{"filter": {"field": "track", "equal": "mod. 14"}}],
 "layer": [{"mark": {"type": "rect", "stroke": "#3d3d3d", "strokeWidth": 1}, "encoding": {"x": {"field": "i", "type": "ordinal", "scale": {"paddingInner": 0, "paddingOuter": 0}, "axis": null}, "y": {"field": "track", "type": "nominal", "scale": {"paddingInner": 0, "paddingOuter": 0}, "axis": {"orient": "left", "title": null}}, "color": {"field": "cat", "type": "nominal", "scale": {"domain": ["main","alt","other","unknown"], "range": ["#C9B98A","#948D3E","#BDC4CB","#FFFFFF"]}, "legend": null}}},
  {"mark": {"type": "rect", "opacity": 0}, "encoding": {"y": {"field": "track", "type": "nominal", "axis": {"orient": "right", "title": null}}}}],
 "resolve": {"axis": {"y": "independent"}}},
{"width": 255, "height": 37.5, "data": {"name": "legend"}, "transform": [{"filter": {"field": "track", "equal": "mod. 14"}}],
 "encoding": {"x": {"field": "col", "type": "nominal", "scale": {"domain": ["main","alt"], "paddingInner": 0.7561, "paddingOuter": 0}, "axis": null}, "y": {"field": "track", "type": "nominal", "scale": {"paddingInner": 0, "paddingOuter": 0}, "axis": null}},
 "layer": [{"mark": {"type": "rect", "stroke": "#444", "strokeWidth": 1}, "encoding": {"color": {"field": "cat", "type": "nominal", "scale": {"domain": ["main","alt","other","unknown"], "range": ["#C9B98A","#948D3E","#BDC4CB","#FFFFFF"]}, "legend": null}}},
  {"mark": {"type": "text", "align": "left", "baseline": "middle", "dx": 32, "fontSize": 17, "lineHeight": 20, "lineBreak": "\n", "color": "#231f20"}, "encoding": {"text": {"field": "label"}}}]},
{"width": 640, "height": 37.5, "view": {"stroke": "#333", "strokeWidth": 1.5},
 "data": {"name": "cells"}, "transform": [{"filter": {"field": "track", "equal": "mod. 12"}}],
 "layer": [{"mark": {"type": "rect", "stroke": "#3d3d3d", "strokeWidth": 1}, "encoding": {"x": {"field": "i", "type": "ordinal", "scale": {"paddingInner": 0, "paddingOuter": 0}, "axis": null}, "y": {"field": "track", "type": "nominal", "scale": {"paddingInner": 0, "paddingOuter": 0}, "axis": {"orient": "left", "title": null}}, "color": {"field": "cat", "type": "nominal", "scale": {"domain": ["main","alt","other","unknown"], "range": ["#C9B98A","#948D3E","#BDC4CB","#FFFFFF"]}, "legend": null}}},
  {"mark": {"type": "rect", "opacity": 0}, "encoding": {"y": {"field": "track", "type": "nominal", "axis": {"orient": "right", "title": null}}}}],
 "resolve": {"axis": {"y": "independent"}}},
{"width": 255, "height": 37.5, "data": {"name": "legend"}, "transform": [{"filter": {"field": "track", "equal": "mod. 12"}}],
 "encoding": {"x": {"field": "col", "type": "nominal", "scale": {"domain": ["main","alt"], "paddingInner": 0.7561, "paddingOuter": 0}, "axis": null}, "y": {"field": "track", "type": "nominal", "scale": {"paddingInner": 0, "paddingOuter": 0}, "axis": null}},
 "layer": [{"mark": {"type": "rect", "stroke": "#444", "strokeWidth": 1}, "encoding": {"color": {"field": "cat", "type": "nominal", "scale": {"domain": ["main","alt","other","unknown"], "range": ["#C9B98A","#948D3E","#BDC4CB","#FFFFFF"]}, "legend": null}}},
  {"mark": {"type": "text", "align": "left", "baseline": "middle", "dx": 32, "fontSize": 17, "lineHeight": 20, "lineBreak": "\n", "color": "#231f20"}, "encoding": {"text": {"field": "label"}}}]},
{"width": 640, "height": 37.5, "view": {"stroke": "#333", "strokeWidth": 1.5},
 "data": {"name": "cells"}, "transform": [{"filter": {"field": "track", "equal": "mod. 8"}}],
 "layer": [{"mark": {"type": "rect", "stroke": "#3d3d3d", "strokeWidth": 1}, "encoding": {"x": {"field": "i", "type": "ordinal", "scale": {"paddingInner": 0, "paddingOuter": 0}, "axis": null}, "y": {"field": "track", "type": "nominal", "scale": {"paddingInner": 0, "paddingOuter": 0}, "axis": {"orient": "left", "title": null}}, "color": {"field": "cat", "type": "nominal", "scale": {"domain": ["main","alt","other","unknown"], "range": ["#C9B98A","#948D3E","#BDC4CB","#FFFFFF"]}, "legend": null}}},
  {"mark": {"type": "rect", "opacity": 0}, "encoding": {"y": {"field": "track", "type": "nominal", "axis": {"orient": "right", "title": null}}}}],
 "resolve": {"axis": {"y": "independent"}}},
{"width": 255, "height": 37.5, "data": {"name": "legend"}, "transform": [{"filter": {"field": "track", "equal": "mod. 8"}}],
 "encoding": {"x": {"field": "col", "type": "nominal", "scale": {"domain": ["main","alt"], "paddingInner": 0.7561, "paddingOuter": 0}, "axis": null}, "y": {"field": "track", "type": "nominal", "scale": {"paddingInner": 0, "paddingOuter": 0}, "axis": null}},
 "layer": [{"mark": {"type": "rect", "stroke": "#444", "strokeWidth": 1}, "encoding": {"color": {"field": "cat", "type": "nominal", "scale": {"domain": ["main","alt","other","unknown"], "range": ["#C9B98A","#948D3E","#BDC4CB","#FFFFFF"]}, "legend": null}}},
  {"mark": {"type": "text", "align": "left", "baseline": "middle", "dx": 32, "fontSize": 17, "lineHeight": 20, "lineBreak": "\n", "color": "#231f20"}, "encoding": {"text": {"field": "label"}}}]},
{"width": 640, "height": 37.5, "view": {"stroke": "#333", "strokeWidth": 1.5},
 "data": {"name": "cells"}, "transform": [{"filter": {"field": "track", "equal": "mod. 5"}}],
 "layer": [{"mark": {"type": "rect", "stroke": "#3d3d3d", "strokeWidth": 1}, "encoding": {"x": {"field": "i", "type": "ordinal", "scale": {"paddingInner": 0, "paddingOuter": 0}, "axis": null}, "y": {"field": "track", "type": "nominal", "scale": {"paddingInner": 0, "paddingOuter": 0}, "axis": {"orient": "left", "title": null}}, "color": {"field": "cat", "type": "nominal", "scale": {"domain": ["main","alt","other","unknown"], "range": ["#C9B98A","#948D3E","#BDC4CB","#FFFFFF"]}, "legend": null}}},
  {"mark": {"type": "rect", "opacity": 0}, "encoding": {"y": {"field": "track", "type": "nominal", "axis": {"orient": "right", "title": null}}}}],
 "resolve": {"axis": {"y": "independent"}}},
{"width": 255, "height": 37.5, "data": {"name": "legend"}, "transform": [{"filter": {"field": "track", "equal": "mod. 5"}}],
 "encoding": {"x": {"field": "col", "type": "nominal", "scale": {"domain": ["main","alt"], "paddingInner": 0.7561, "paddingOuter": 0}, "axis": null}, "y": {"field": "track", "type": "nominal", "scale": {"paddingInner": 0, "paddingOuter": 0}, "axis": null}},
 "layer": [{"mark": {"type": "rect", "stroke": "#444", "strokeWidth": 1}, "encoding": {"color": {"field": "cat", "type": "nominal", "scale": {"domain": ["main","alt","other","unknown"], "range": ["#C9B98A","#948D3E","#BDC4CB","#FFFFFF"]}, "legend": null}}},
  {"mark": {"type": "text", "align": "left", "baseline": "middle", "dx": 32, "fontSize": 17, "lineHeight": 20, "lineBreak": "\n", "color": "#231f20"}, "encoding": {"text": {"field": "label"}}}]},
{"width": 640, "height": 37.5, "view": {"stroke": "#333", "strokeWidth": 1.5},
 "data": {"name": "cells"}, "transform": [{"filter": {"field": "track", "equal": "mod. 1"}}],
 "layer": [{"mark": {"type": "rect", "stroke": "#3d3d3d", "strokeWidth": 1}, "encoding": {"x": {"field": "i", "type": "ordinal", "scale": {"paddingInner": 0, "paddingOuter": 0}, "axis": {"title": "genes ordered by score", "labels": false, "ticks": false, "domain": false, "titlePadding": 13, "titleX": 304, "titleFontSize": 16, "titleFontWeight": "normal", "titleColor": "#231f20"}}, "y": {"field": "track", "type": "nominal", "scale": {"paddingInner": 0, "paddingOuter": 0}, "axis": {"orient": "left", "title": null}}, "color": {"field": "cat", "type": "nominal", "scale": {"domain": ["main","alt","other","unknown"], "range": ["#C9B98A","#948D3E","#BDC4CB","#FFFFFF"]}, "legend": null}}},
  {"mark": {"type": "rect", "opacity": 0}, "encoding": {"y": {"field": "track", "type": "nominal", "axis": {"orient": "right", "title": null}}}}],
 "resolve": {"axis": {"y": "independent"}}},
{"width": 255, "height": 37.5, "data": {"name": "legend"}, "transform": [{"filter": {"field": "track", "equal": "mod. 1"}}],
 "encoding": {"x": {"field": "col", "type": "nominal", "scale": {"domain": ["main","alt"], "paddingInner": 0.7561, "paddingOuter": 0}, "axis": null}, "y": {"field": "track", "type": "nominal", "scale": {"paddingInner": 0, "paddingOuter": 0}, "axis": null}},
 "layer": [{"mark": {"type": "rect", "stroke": "#444", "strokeWidth": 1}, "encoding": {"color": {"field": "cat", "type": "nominal", "scale": {"domain": ["main","alt","other","unknown"], "range": ["#C9B98A","#948D3E","#BDC4CB","#FFFFFF"]}, "legend": null}}},
  {"mark": {"type": "text", "align": "left", "baseline": "middle", "dx": 32, "fontSize": 17, "lineHeight": 20, "lineBreak": "\n", "color": "#231f20"}, "encoding": {"text": {"field": "label"}}}]}
],
"config": {
  "font": "Liberation Sans",
  "view": {"stroke": null},
  "title": {"fontSize": 21, "fontWeight": "normal", "color": "#231f20", "font": "Liberation Sans"},
  "axisLeft": {"domain": false, "tickSize": -6, "tickColor": "#222", "tickWidth": 1.3, "labelAlign": "left", "labelPadding": 112, "labelFontSize": 17, "labelColor": "#231f20", "labelFont": "Liberation Sans"},
  "axisRight": {"domain": false, "tickSize": -6, "tickColor": "#222", "tickWidth": 1.3, "labels": false}
}
}
